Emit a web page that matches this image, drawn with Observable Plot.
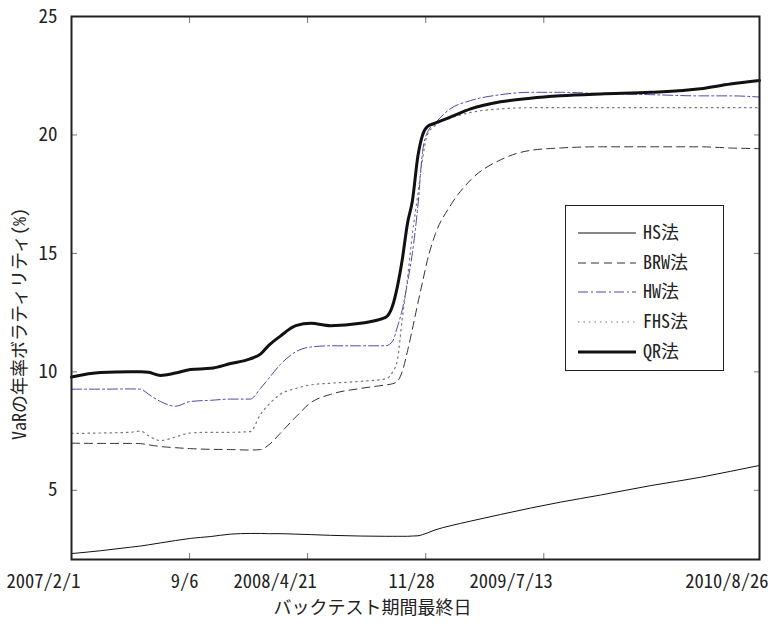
<!DOCTYPE html>
<html><head><meta charset="utf-8">
<script src="https://cdn.jsdelivr.net/npm/d3@7"></script>
<script src="https://cdn.jsdelivr.net/npm/@observablehq/plot@0.6"></script>
<style>
body{margin:0;background:#fff;}
#wrap{position:relative;width:775px;height:626px;font-family:"Noto Sans CJK JP";}
svg text{font-feature-settings:"hwid";}
#legend{position:absolute;left:565px;top:205px;width:159px;height:166px;border:1.5px solid #222;background:#fff;box-sizing:border-box;}
#legend svg{position:absolute;left:0;top:0;}
#ylabel{position:absolute;left:18px;top:324px;transform:translate(-50%,-50%) rotate(-90deg);white-space:nowrap;font-size:18px;color:#222;font-feature-settings:"hwid";}
</style></head><body><div id="wrap"></div>
<script>
// x = trading-day index since 2007/2/1
const days = [0,37,75,88,98,113,132,151,177,202,227,240,250,265,285,304,329,367,399,408,414,420,427,433,440,446,452,462,481,507,545,583,621,672,736,799,837,874];

const hs  = [2.33,2.45,2.6,2.65,2.7,2.78,2.88,2.97,3.05,3.15,3.18,3.18,3.17,3.17,3.15,3.13,3.1,3.07,3.06,3.06,3.06,3.06,3.06,3.07,3.08,3.13,3.2,3.33,3.5,3.7,3.98,4.25,4.5,4.8,5.2,5.55,5.8,6.05];
const brw = [6.99,6.98,6.98,6.97,6.92,6.85,6.8,6.76,6.73,6.72,6.7,6.72,6.9,7.4,8.1,8.7,9.05,9.3,9.45,9.5,9.6,10.0,10.9,11.8,12.9,13.8,14.7,15.8,17.0,18.1,18.95,19.35,19.45,19.5,19.5,19.5,19.45,19.42];
const hw  = [9.27,9.27,9.28,9.27,9.05,8.75,8.55,8.75,8.8,8.85,8.85,9.3,9.7,10.3,10.85,11.05,11.1,11.1,11.1,11.3,11.9,12.6,13.8,15.0,17.0,19.3,20.1,20.5,21.1,21.45,21.7,21.8,21.8,21.75,21.7,21.65,21.65,21.6];
const fhs = [7.4,7.42,7.45,7.5,7.3,7.1,7.25,7.42,7.45,7.45,7.48,8.2,8.6,9.05,9.3,9.45,9.52,9.6,9.7,10.0,10.5,12.2,14.0,15.8,17.5,19.0,20.0,20.4,20.7,20.95,21.1,21.15,21.15,21.15,21.15,21.15,21.15,21.15];
const qr  = [9.78,9.97,10.0,10.0,9.98,9.85,9.95,10.1,10.15,10.35,10.55,10.75,11.1,11.5,11.95,12.05,11.95,12.05,12.3,12.8,13.6,14.7,16.3,17.2,19.1,20.0,20.35,20.5,20.75,21.1,21.4,21.55,21.65,21.73,21.8,21.95,22.15,22.3];

const seriesNames = ["HS法","BRW法","HW法","FHS法","QR法"];
const seriesValues = [hs, brw, hw, fhs, qr];
const seriesStyle = [
  {stroke:"#111", strokeWidth:1, dash:null},
  {stroke:"#333", strokeWidth:1, dash:"8,5"},
  {stroke:"#4a4aa8", strokeWidth:1, dash:"10,3,2,3"},
  {stroke:"#777", strokeWidth:1.2, dash:"1.5,4"},
  {stroke:"#111", strokeWidth:3, dash:null}
];

const xTickPos = [0,150,300,450,600,874];
const xTickLabels = ["2007/2/1","9/6","2008/4/21","11/28","2009/7/13","2010/8/26"];
const yTicks = [5,10,15,20,25];
const yTitle = "VaRの年率ボラティリティ(%)";
const xTitle = "バックテスト期間最終日";

const lines = seriesNames.map((name, k) => {
  const rows = days.map((d, i) => ({day: d, value: seriesValues[k][i]}));
  const s = seriesStyle[k];
  return Plot.line(rows, {x:"day", y:"value", stroke:s.stroke, strokeWidth:s.strokeWidth, strokeDasharray:s.dash, curve:"monotone-x"});
});

const chart = Plot.plot({
  width: 775, height: 626,
  marginLeft: 71, marginRight: 16, marginTop: 16, marginBottom: 67,
  style: {fontFamily: "Noto Sans CJK JP", fontSize: "19px", color:"#222", background:"#fff"},
  x: {domain: [0, 874], axis: null},
  y: {domain: [2.08, 25], axis: null},
  marks: [
    ...lines,
    Plot.axisY(yTicks, {anchor:"left", label:null, tickSize:-6, tickPadding:20, fontSize:19, stroke:"#777"}),
    Plot.axisY(yTicks, {anchor:"right", label:null, tickSize:-6, tickFormat:() => "", stroke:"#777"}),
    Plot.axisX(xTickPos.slice(1,5), {anchor:"bottom", label:null, tickSize:-6, tickFormat:() => "", stroke:"#777"}),
    Plot.axisX(xTickPos.slice(1,5), {anchor:"top", label:null, tickSize:-6, tickFormat:() => "", stroke:"#777"}),
    Plot.axisX(xTickPos, {anchor:"bottom", label:null, tickSize:0, tickPadding:15, fontSize:18.5, textAnchor:"end", dx:9, tickFormat:(d) => xTickLabels[xTickPos.indexOf(d)]}),
    Plot.frame({stroke:"#222", strokeWidth:2}),
    Plot.text([xTitle], {text:d => d, frameAnchor:"bottom", dx:-43, dy:42, lineAnchor:"top", fontSize:18})
  ]
});
const wrap = document.getElementById("wrap");
wrap.appendChild(chart);

// y title
const yl = document.createElement("div");
yl.id = "ylabel";
yl.textContent = yTitle;
wrap.appendChild(yl);

// legend
const leg = document.createElement("div");
leg.id = "legend";
wrap.appendChild(leg);
const lsvg = d3.select(leg).append("svg").attr("width",159).attr("height",166)
  .style("font-family","Noto Sans CJK JP").style("font-size","18px");
const rowY = [27,57,86,116,146];
seriesNames.forEach((name, k) => {
  const s = seriesStyle[k];
  lsvg.append("line").attr("x1",12).attr("x2",70).attr("y1",rowY[k]).attr("y2",rowY[k])
    .attr("stroke",s.stroke).attr("stroke-width",s.strokeWidth).attr("stroke-dasharray",s.dash);
  lsvg.append("text").attr("x",77).attr("y",rowY[k]).attr("dy","0.35em").attr("fill","#222")
    .style("font-feature-settings","'hwid'").text(name);
});
</script>
</body></html>
